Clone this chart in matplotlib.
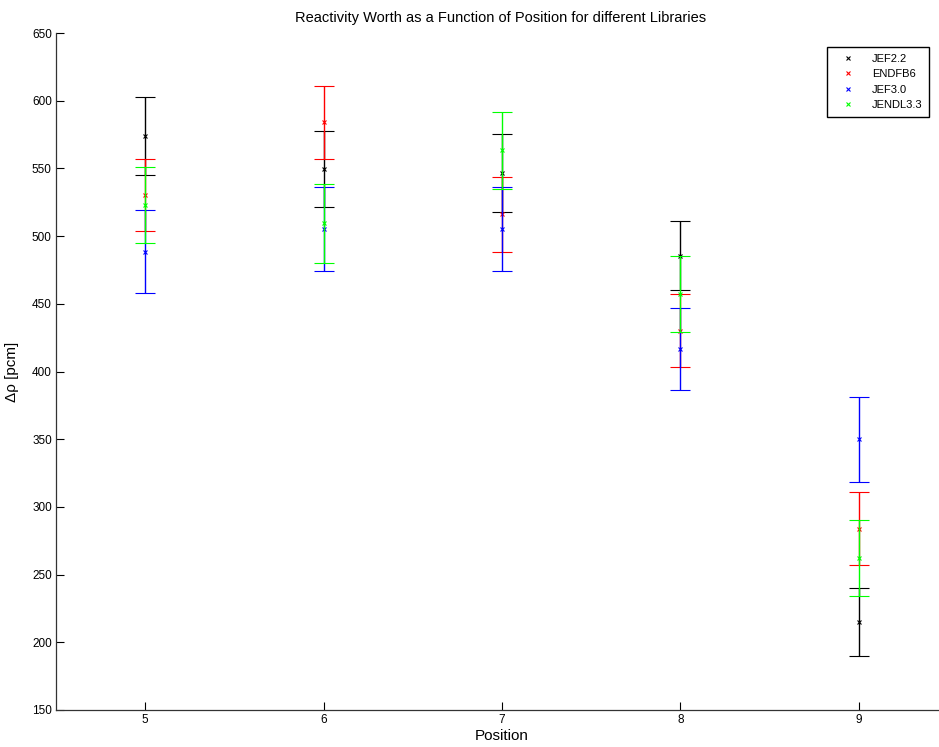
import matplotlib
matplotlib.use("Agg")
import matplotlib.pyplot as plt
from matplotlib.lines import Line2D

plt.rcParams['font.family'] = ['Liberation Sans', 'DejaVu Sans']

# --- reactivity worth per position and library (pcm) ---
positions = [5, 6, 7, 8, 9]
libraries = ['JEF2.2', 'ENDFB6', 'JEF3.0', 'JENDL3.3']
colors = ['#000000', '#ff0000', '#0000ff', '#00ff00']

jef22 = [574, 549.5, 546.5, 485.5, 215]
jef22_err = [29, 28, 29, 25.5, 25]
endfb6 = [530.5, 584, 516, 430, 284]
endfb6_err = [26.5, 27, 27.5, 27, 27]
jef30 = [488.5, 505, 505.5, 416.5, 350]
jef30_err = [30.5, 31, 31, 30.5, 31.5]
jendl33 = [523, 509.5, 563.5, 457, 262]
jendl33_err = [28, 29, 28.5, 28, 28]

values = [jef22, endfb6, jef30, jendl33]
errors = [jef22_err, endfb6_err, jef30_err, jendl33_err]

fig = plt.figure(figsize=(9.39, 7.47), dpi=100)
ax = fig.add_axes([56 / 939, 37 / 747, 892 / 939, 677 / 747])

for i, (vals, errs, col) in enumerate(zip(values, errors, colors)):
    ax.errorbar(positions, vals, yerr=errs, fmt='x', color=col, ecolor=col,
                markersize=3.5, markeredgewidth=0.8, elinewidth=1.0,
                capsize=7.5, capthick=1.0, zorder=2 + i)

ax.set_xlim(4.5, 9.5)
ax.set_ylim(150, 650)
ax.set_xticks(positions)
ax.set_yticks(range(150, 651, 50))
ax.tick_params(direction='in', length=6, width=0.8, labelsize=8.5, pad=3)
for side in ['top', 'right']:
    ax.spines[side].set_visible(False)
for side in ['left', 'bottom']:
    ax.spines[side].set_linewidth(0.9)
    ax.spines[side].set_color('#333333')

ax.set_title('Reactivity Worth as a Function of Position for different Libraries',
             fontsize=10.5, pad=8, x=(501 - 56) / 892)
ax.set_xlabel('Position', fontsize=11, labelpad=2)
ax.set_ylabel('Δρ [pcm]', fontsize=11, labelpad=9)

handles = [Line2D([], [], linestyle='none', marker='x', color=c,
                  markersize=3.5, markeredgewidth=0.8) for c in colors]
leg = fig.legend(handles, libraries, loc='upper right',
                 bbox_to_anchor=(929 / 939, 1 - 47 / 747), fontsize=8,
                 frameon=True, fancybox=False, shadow=False,
                 edgecolor='black', framealpha=1, borderpad=0.6,
                 labelspacing=0.5, handlelength=2.6, handletextpad=0.8,
                 borderaxespad=0)
leg.get_frame().set_linewidth(1.0)

fig.savefig('out.png', dpi=100)
